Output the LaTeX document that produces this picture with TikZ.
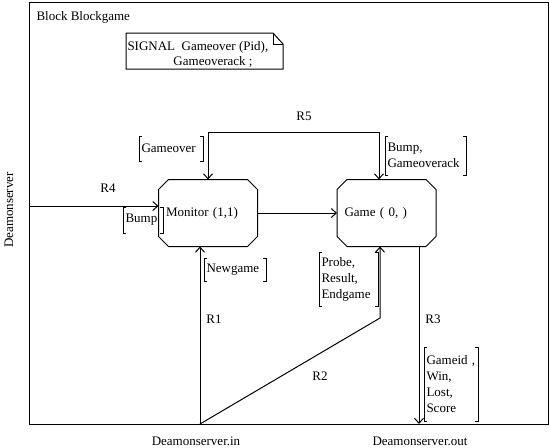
\documentclass[tikz,border=0pt]{standalone}
\usepackage{fontspec}
\setmainfont{Liberation Serif}
\usetikzlibrary{arrows.meta}

\begin{document}
\begin{tikzpicture}[x=1pt, y=-1pt, line width=1pt,
    every node/.style={font=\fontsize{13}{16}\selectfont, inner sep=0pt},
    blk/.style={minimum width=98pt, minimum height=66pt, inner xsep=7pt, text width=84pt, align=left},
    sig/.style={anchor=north west, inner xsep=2pt, align=left},
    sarr/.style={-{Straight Barb[length=5pt,width=9pt]}}]
    \useasboundingbox (0,0) rectangle (550,448);

    % block frame and signal declaration
    \draw (29,2) rectangle (548,424);
    \node[anchor=west] (bname) at (36,17) {Block Blockgame};
    \draw (126,33) -- (273,33) -- (283,44) -- (283,69) -- (126,69) -- cycle;
    \draw (273,33) -- (273,44) -- (283,44);
    \node[anchor=north west, align=left, font=\fontsize{13}{14.5}\selectfont] (sdecl) at (127,41)
        {SIGNAL~~Gameover (Pid),\\\hspace*{46pt}Gameoverack ;};

    % processes
    \node[blk] (mon) at (208,213) {Monitor (1,1)};
    \node[blk] (game) at (386.5,213) {Game ( 0, )};
    \foreach \b in {mon,game} {
        \draw ([xshift=10pt]\b.north west) -- ([xshift=-10pt]\b.north east) -- ([yshift=-10pt]\b.north east)
            -- ([yshift=10pt]\b.south east) -- ([xshift=-10pt]\b.south east) -- ([xshift=10pt]\b.south west)
            -- ([yshift=10pt]\b.south west) -- ([yshift=-10pt]\b.north west) -- cycle;
    }

    % signal lists
    \node[sig, text width=59pt, minimum height=24pt] (sgameover) at (139,136) {Gameover};
    \node[sig, text width=76pt, minimum height=38pt] (sbumpack) at (385,136) {Bump,\\Gameoverack};
    \node[sig, text width=35pt, minimum height=25pt] (sbump) at (123,207) {Bump};
    \node[sig, text width=57pt, minimum height=22pt] (snewgame) at (204,258) {Newgame};
    \node[sig, text width=54pt, minimum height=53pt] (sprobe) at (319,252) {Probe,\\Result,\\Endgame};
    \node[sig, text width=49pt, minimum height=73pt] (sgameid) at (424,347) {Gameid ,\\Win,\\Lost,\\Score};
    \foreach \s in {sgameover,sbumpack,sbump,snewgame,sprobe,sgameid} {
        \draw ([xshift=3pt]\s.north west) -- (\s.north west) -- (\s.south west) -- ++(3,0);
        \draw ([xshift=-3pt]\s.north east) -- (\s.north east) -- (\s.south east) -- ++(-3,0);
    }

    % channels
    \coordinate (r4in) at (29,206);
    \coordinate (r5l) at (208,132);
    \coordinate (r5r) at (379,132);
    \coordinate (dsin) at (200,424);
    \coordinate (r2bend) at (380,318);
    \coordinate (dsout) at (419,424);
    \draw[sarr] (r4in) -- (r4in -| mon.west);
    \draw[sarr] (mon) -- (game);
    \draw[{Straight Barb[length=5pt,width=9pt]}-{Straight Barb[length=5pt,width=9pt]}]
        (mon.north) -- (r5l) -- (r5r) -- (r5r |- game.north);
    \draw[sarr] (dsin) -- (dsin |- mon.south);
    \draw[sarr] (dsin) -- (r2bend) -- (r2bend |- game.south);
    \draw[sarr] (dsout |- game.south) -- (dsout);

    % channel and environment labels
    \node (lr5) at (304,116) {R5};
    \node (lr4) at (108,188) {R4};
    \node (lr1) at (214,319) {R1};
    \node (lr2) at (320,376) {R2};
    \node (lr3) at (433,319) {R3};
    \node (lin) at (196,441) {Deamonserver.in};
    \node (lout) at (420,441) {Deamonserver.out};
    \node[rotate=90] (lds) at (9,210) {Deamonserver};
\end{tikzpicture}
\end{document}
